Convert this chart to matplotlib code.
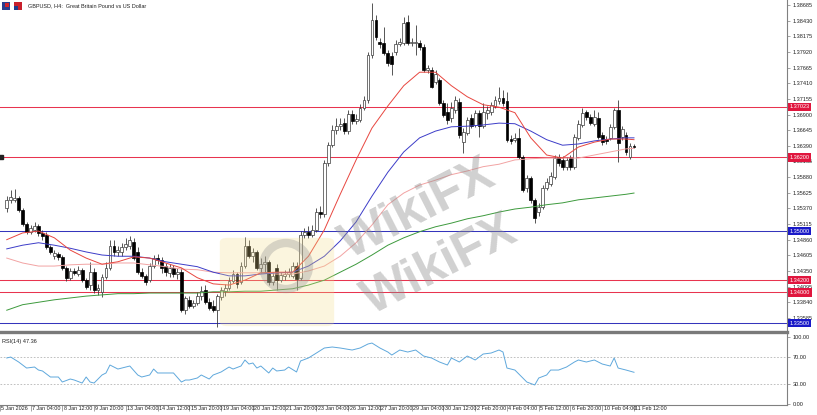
import numpy as np
import matplotlib
matplotlib.use("Agg")
import matplotlib.pyplot as plt
import matplotlib.transforms as mtrans
from matplotlib.patches import FancyBboxPatch, Ellipse, Rectangle

plt.rcParams['font.family'] = ['Liberation Sans', 'DejaVu Sans']

# ---------------- data (GBPUSD H4) ----------------
opens = [1.3538, 1.3551, 1.3551, 1.3554, 1.3534, 1.3512, 1.3499, 1.3502, 1.3508, 1.3497,
         1.3494, 1.3474, 1.3459, 1.3463, 1.3458, 1.3440, 1.3424, 1.3435, 1.3430, 1.3437,
         1.3420, 1.3412, 1.3433, 1.3404, 1.3401, 1.3425, 1.3440, 1.3476, 1.3466, 1.3466,
         1.3474, 1.3476, 1.3482, 1.3466, 1.3433, 1.3427, 1.3420, 1.3443, 1.3456, 1.3453,
         1.3443, 1.3432, 1.3440, 1.3430, 1.3433, 1.3371, 1.3388, 1.3378, 1.3383, 1.3394,
         1.3404, 1.3384, 1.3378, 1.3371, 1.3393, 1.3402, 1.3407, 1.3419, 1.3430, 1.3417,
         1.3443, 1.3476, 1.3459, 1.3466, 1.3440, 1.3446, 1.3450, 1.3417, 1.3440, 1.3420,
         1.3427, 1.3430, 1.3427, 1.3443, 1.3424, 1.3494, 1.3499, 1.3494, 1.3502, 1.3531,
         1.3528, 1.3611, 1.3640, 1.3665, 1.3671, 1.3676, 1.3663, 1.3691, 1.3679, 1.3681,
         1.3701, 1.3714, 1.3787, 1.3844, 1.3808, 1.3807, 1.3790, 1.3785, 1.3792, 1.3805,
         1.3807, 1.3841, 1.3807, 1.3806, 1.3807, 1.3800, 1.3763, 1.3763, 1.3743, 1.3746,
         1.3709, 1.3694, 1.3684, 1.3697, 1.3710, 1.3645, 1.3660, 1.3684, 1.3673, 1.3693,
         1.3671, 1.3693, 1.3694, 1.3704, 1.3712, 1.3717, 1.3712, 1.3650, 1.3649, 1.3652,
         1.3621, 1.3570, 1.3587, 1.3551, 1.3531, 1.3539, 1.3570, 1.3577, 1.3588, 1.3621,
         1.3616, 1.3605, 1.3619, 1.3605, 1.3652, 1.3673, 1.3694, 1.3686, 1.3675, 1.3684,
         1.3657, 1.3650, 1.3652, 1.3670, 1.3697, 1.3653, 1.3657, 1.3621, 1.3639]
highs = [1.3557, 1.3567, 1.3569, 1.3557, 1.3538, 1.3515, 1.3510, 1.3515, 1.3512, 1.3502,
         1.3499, 1.3477, 1.3469, 1.3466, 1.3461, 1.3443, 1.3440, 1.3440, 1.3443, 1.3440,
         1.3424, 1.3450, 1.3440, 1.3414, 1.3430, 1.3450, 1.3486, 1.3486, 1.3476, 1.3481,
         1.3489, 1.3492, 1.3489, 1.3474, 1.3440, 1.3430, 1.3448, 1.3461, 1.3463, 1.3458,
         1.3448, 1.3446, 1.3445, 1.3440, 1.3440, 1.3394, 1.3394, 1.3388, 1.3401, 1.3411,
         1.3412, 1.3391, 1.3388, 1.3398, 1.3409, 1.3414, 1.3425, 1.3437, 1.3433, 1.3450,
         1.3490, 1.3486, 1.3472, 1.3469, 1.3456, 1.3459, 1.3453, 1.3433, 1.3446, 1.3433,
         1.3437, 1.3440, 1.3450, 1.3450, 1.3500, 1.3505, 1.3508, 1.3510, 1.3538, 1.3541,
         1.3616, 1.3645, 1.3673, 1.3684, 1.3684, 1.3684, 1.3697, 1.3697, 1.3691, 1.3707,
         1.3720, 1.3792, 1.3872, 1.3852, 1.3815, 1.3833, 1.3795, 1.3792, 1.3811, 1.3815,
         1.3849, 1.3852, 1.3815, 1.3836, 1.3811, 1.3805, 1.3771, 1.3767, 1.3763, 1.3750,
         1.3714, 1.3709, 1.3710, 1.3720, 1.3717, 1.3668, 1.3686, 1.3691, 1.3697, 1.3697,
         1.3709, 1.3704, 1.3710, 1.3720, 1.3735, 1.3730, 1.3727, 1.3657, 1.3660, 1.3668,
         1.3624, 1.3592, 1.3590, 1.3554, 1.3546, 1.3575, 1.3587, 1.3596, 1.3624, 1.3626,
         1.3622, 1.3621, 1.3624, 1.3658, 1.3681, 1.3701, 1.3697, 1.3691, 1.3697, 1.3694,
         1.3662, 1.3655, 1.3675, 1.3701, 1.3714, 1.3671, 1.3662, 1.3644, 1.3642]
lows = [1.3531, 1.3546, 1.3547, 1.3531, 1.3508, 1.3495, 1.3495, 1.3499, 1.3492, 1.3486,
        1.3471, 1.3463, 1.3455, 1.3453, 1.3437, 1.3419, 1.3420, 1.3429, 1.3427, 1.3417,
        1.3406, 1.3404, 1.3399, 1.3396, 1.3393, 1.3422, 1.3437, 1.3459, 1.3459, 1.3459,
        1.3469, 1.3471, 1.3453, 1.3430, 1.3424, 1.3412, 1.3417, 1.3440, 1.3446, 1.3432,
        1.3427, 1.3425, 1.3425, 1.3422, 1.3368, 1.3365, 1.3375, 1.3375, 1.3380, 1.3388,
        1.3381, 1.3371, 1.3368, 1.3344, 1.3388, 1.3394, 1.3404, 1.3415, 1.3407, 1.3414,
        1.3440, 1.3456, 1.3450, 1.3437, 1.3432, 1.3433, 1.3412, 1.3412, 1.3404, 1.3417,
        1.3420, 1.3425, 1.3424, 1.3404, 1.3420, 1.3489, 1.3489, 1.3490, 1.3499, 1.3521,
        1.3523, 1.3606, 1.3637, 1.3658, 1.3665, 1.3658, 1.3658, 1.3675, 1.3675, 1.3678,
        1.3697, 1.3709, 1.3782, 1.3811, 1.3798, 1.3787, 1.3769, 1.3754, 1.3787, 1.3802,
        1.3803, 1.3803, 1.3802, 1.3787, 1.3795, 1.3759, 1.3758, 1.3733, 1.3740, 1.3706,
        1.3686, 1.3675, 1.3678, 1.3693, 1.3652, 1.3627, 1.3657, 1.3668, 1.3670, 1.3653,
        1.3668, 1.3683, 1.3689, 1.3701, 1.3707, 1.3704, 1.3645, 1.3642, 1.3645, 1.3618,
        1.3564, 1.3564, 1.3546, 1.3513, 1.3524, 1.3536, 1.3567, 1.3574, 1.3585, 1.3606,
        1.3600, 1.3600, 1.3600, 1.3601, 1.3649, 1.3670, 1.3681, 1.3673, 1.3671, 1.3650,
        1.3640, 1.3642, 1.3649, 1.3667, 1.3613, 1.3649, 1.3624, 1.3618, 1.3635]
closes = [1.3551, 1.3556, 1.3554, 1.3534, 1.3512, 1.3499, 1.3505, 1.3508, 1.3497, 1.3492,
          1.3474, 1.3466, 1.3464, 1.3458, 1.3440, 1.3424, 1.3435, 1.3432, 1.3437, 1.3420,
          1.3409, 1.3433, 1.3404, 1.3407, 1.3425, 1.3440, 1.3476, 1.3466, 1.3469, 1.3474,
          1.3479, 1.3486, 1.3456, 1.3433, 1.3427, 1.3417, 1.3443, 1.3456, 1.3453, 1.3440,
          1.3433, 1.3440, 1.3430, 1.3433, 1.3371, 1.3391, 1.3378, 1.3383, 1.3394, 1.3402,
          1.3384, 1.3375, 1.3371, 1.3394, 1.3404, 1.3407, 1.3419, 1.3430, 1.3414, 1.3443,
          1.3476, 1.3459, 1.3466, 1.3440, 1.3446, 1.3450, 1.3417, 1.3427, 1.3420, 1.3429,
          1.3430, 1.3433, 1.3443, 1.3422, 1.3494, 1.3499, 1.3494, 1.3502, 1.3531, 1.3528,
          1.3611, 1.3640, 1.3665, 1.3671, 1.3675, 1.3663, 1.3691, 1.3679, 1.3683, 1.3701,
          1.3714, 1.3787, 1.3844, 1.3816, 1.3805, 1.3790, 1.3774, 1.3772, 1.3805, 1.3808,
          1.3839, 1.3807, 1.3808, 1.3808, 1.3800, 1.3763, 1.3766, 1.3735, 1.3756, 1.3709,
          1.3689, 1.3681, 1.3701, 1.3714, 1.3657, 1.3662, 1.3681, 1.3671, 1.3693, 1.3671,
          1.3694, 1.3697, 1.3706, 1.3714, 1.3717, 1.3709, 1.3649, 1.3647, 1.3652, 1.3621,
          1.3567, 1.3587, 1.3551, 1.3521, 1.3539, 1.3570, 1.3580, 1.3590, 1.3619, 1.3611,
          1.3605, 1.3616, 1.3605, 1.3653, 1.3675, 1.3693, 1.3686, 1.3676, 1.3686, 1.3653,
          1.3645, 1.3647, 1.3670, 1.3697, 1.3644, 1.3667, 1.3629, 1.3639, 1.3637]

# moving averages at these bars
ma_bars = [0, 4, 8, 12, 16, 20, 24, 28, 32, 36, 40, 44, 48, 52, 56, 60, 64, 68, 72, 76,
           80, 84, 88, 92, 96, 100, 104, 108, 112, 116, 120, 124, 128, 132, 136, 140, 144,
           148, 152, 156, 158]
ma_red = [1.3486, 1.3497, 1.3500, 1.3489, 1.3469, 1.3456, 1.3446, 1.3450, 1.3458, 1.3456,
          1.3448, 1.3440, 1.3424, 1.3414, 1.3412, 1.3420, 1.3432, 1.3433, 1.3433, 1.3459,
          1.3502, 1.3560, 1.3616, 1.3668, 1.3704, 1.3737, 1.3759, 1.3759, 1.3737, 1.3719,
          1.3706, 1.3702, 1.3693, 1.3652, 1.3624, 1.3619, 1.3637, 1.3645, 1.3650, 1.3650, 1.3649]
ma_blue = [1.3471, 1.3477, 1.3481, 1.3477, 1.3472, 1.3466, 1.3461, 1.3459, 1.3459, 1.3456,
           1.3450, 1.3446, 1.3442, 1.3433, 1.3427, 1.3427, 1.3430, 1.3432, 1.3433, 1.3443,
           1.3459, 1.3484, 1.3515, 1.3557, 1.3596, 1.3629, 1.3652, 1.3663, 1.3670, 1.3671,
           1.3673, 1.3676, 1.3675, 1.3663, 1.3649, 1.3640, 1.3642, 1.3647, 1.3650, 1.3652, 1.3652]
ma_pink = [1.3456, 1.3448, 1.3443, 1.3443, 1.3445, 1.3446, 1.3446, 1.3448, 1.3448, 1.3445,
           1.3442, 1.3438, 1.3437, 1.3433, 1.3432, 1.3432, 1.3432, 1.3430, 1.3430, 1.3435,
           1.3443, 1.3459, 1.3481, 1.3510, 1.3543, 1.3562, 1.3575, 1.3583, 1.3592, 1.3598,
           1.3605, 1.3609, 1.3616, 1.3618, 1.3619, 1.3619, 1.3619, 1.3624, 1.3629, 1.3634, 1.3635]
ma_green = [1.3371, 1.3380, 1.3384, 1.3388, 1.3391, 1.3394, 1.3396, 1.3398, 1.3398, 1.3399,
            1.3399, 1.3399, 1.3399, 1.3401, 1.3401, 1.3402, 1.3402, 1.3404, 1.3406, 1.3412,
            1.3420, 1.3433, 1.3446, 1.3461, 1.3477, 1.3489, 1.3499, 1.3507, 1.3513, 1.3520,
            1.3525, 1.3531, 1.3536, 1.3539, 1.3543, 1.3546, 1.3551, 1.3554, 1.3557, 1.3560, 1.3562]

rsi_bars = [0, 1, 3, 5, 7, 8, 9, 11, 13, 14, 16, 17, 19, 20, 21, 22, 24, 25, 26, 28,
            29, 31, 33, 34, 36, 37, 38, 39, 41, 42, 44, 45, 46, 48, 49, 51, 52, 54, 56, 57,
            59, 60, 61, 62, 63, 64, 66, 67, 68, 70, 71, 73, 74, 76, 78, 80, 82, 84, 87, 89,
            91, 92, 94, 96, 97, 99, 101, 103, 105, 107, 109, 111, 112, 114, 116, 118, 120, 122, 124, 125,
            126, 128, 130, 131, 133, 134, 136, 137, 139, 141, 143, 144, 146, 148, 150, 152, 153, 154, 156, 158]
rsi_vals = [68.7, 70.1, 62.7, 53.7, 55.2, 50.7, 49.3, 40.3, 40.3, 32.8, 37.3, 35.8, 31.3, 40.3, 32.8, 31.3, 43.3, 46.3, 58.2, 52.2,
            53.7, 56.7, 43.3, 40.3, 43.3, 52.2, 46.3, 46.3, 46.3, 46.3, 32.8, 35.8, 35.8, 38.8, 43.3, 37.3, 43.3, 47.8, 55.2, 52.2,
            56.7, 65.7, 59.7, 61.2, 53.7, 56.7, 46.3, 53.7, 49.3, 50.7, 55.2, 47.8, 64.2, 68.7, 76.1, 83.6, 85.1, 83.6, 80.6, 83.6,
            89.6, 91.0, 83.6, 77.6, 73.1, 80.6, 77.6, 80.6, 71.6, 68.7, 62.7, 58.2, 68.7, 62.7, 71.6, 65.7, 74.6, 76.1, 80.6, 77.6,
            53.7, 50.7, 38.8, 32.8, 28.4, 38.8, 43.3, 50.7, 50.7, 55.2, 62.7, 65.7, 62.7, 65.7, 59.7, 56.7, 68.7, 53.7, 50.7, 47.36]

price_ticks = [1.38685, 1.38430, 1.38175, 1.37920, 1.37665, 1.37410, 1.37155, 1.36900, 1.36645,
               1.36390, 1.36135, 1.35880, 1.35625, 1.35370, 1.35115, 1.34860, 1.34605, 1.34350,
               1.34095, 1.33840, 1.33585]
red_levels = [1.37023, 1.36200, 1.34200, 1.34000]
blue_levels = [1.35000, 1.33500]
rsi_ticks = [100, 70, 30, 0]
first_label = "5 Jan 2026"
time_labels = ["7 Jan 04:00", "8 Jan 12:00", "9 Jan 20:00", "13 Jan 04:00", "14 Jan 12:00",
               "15 Jan 20:00", "19 Jan 04:00", "20 Jan 12:00", "21 Jan 20:00", "23 Jan 04:00",
               "26 Jan 12:00", "27 Jan 20:00", "29 Jan 04:00", "30 Jan 12:00", "2 Feb 20:00",
               "4 Feb 04:00", "5 Feb 12:00", "6 Feb 20:00", "10 Feb 04:00", "11 Feb 12:00"]
label_bars = [6, 14, 22, 30, 38, 46, 54, 62, 70, 78, 86, 94, 102, 110, 118, 126, 134, 142, 150, 158]
title = "GBPUSD, H4:  Great Britain Pound vs US Dollar"
rsi_title = "RSI(14) 47.36"

# ---------------- layout ----------------
W, H = 817, 415
fig = plt.figure(figsize=(W / 100, H / 100), dpi=100)
fig.patch.set_facecolor('white')

n = len(closes)
bar_px = 3.97
last_px = 634.0
axis_px = 787.0
xl = (n - 1) - last_px / bar_px
xr = (n - 1) + (axis_px - last_px) / bar_px

ax = fig.add_axes([0, (H - 332) / H, axis_px / W, 332 / H])
axr = fig.add_axes([0, (H - 405) / H, axis_px / W, 73 / H])

for a in (ax, axr):
    a.set_xlim(xl, xr)
    a.set_facecolor('white')
    a.spines['left'].set_visible(False)
    a.spines['right'].set_color('#808080')
    a.spines['right'].set_linewidth(0.8)
ax.spines['top'].set_visible(False)
ax.spines['bottom'].set_visible(False)
axr.spines['top'].set_color('#7a7a7a')
axr.spines['top'].set_linewidth(2.4)
axr.spines['bottom'].set_color('#808080')
axr.spines['bottom'].set_linewidth(0.8)

# ---------------- main price panel ----------------
ax.set_ylim(1.33355, 1.38767)
ax.yaxis.tick_right()
ax.set_yticks(price_ticks)
ax.set_yticklabels([f"{v:.5f}" for v in price_ticks])
ax.tick_params(axis='y', direction='out', length=2.5, width=0.5, pad=1.5,
               labelsize=4.0, colors='#808080', labelcolor='#222222')
ax.set_xticks([])

ytrans = mtrans.blended_transform_factory(ax.transAxes, ax.transData)
for v in red_levels:
    ax.axhline(v, color='#e8344f', lw=0.75, zorder=1)
    ax.text(1.0 + 2.5 / axis_px, v, f"{v:.5f}", transform=ytrans, fontsize=4.0, color='white',
            va='center', ha='left', zorder=10, clip_on=False,
            bbox=dict(boxstyle='square,pad=0.3', fc='#e0163e', ec='none'))
for v in blue_levels:
    ax.axhline(v, color='#3535bc', lw=0.75, zorder=1)
    ax.text(1.0 + 2.5 / axis_px, v, f"{v:.5f}", transform=ytrans, fontsize=4.0, color='white',
            va='center', ha='left', zorder=10, clip_on=False,
            bbox=dict(boxstyle='square,pad=0.3', fc='#1a1ac8', ec='none'))
ax.plot([xl + 0.3], [red_levels[1]], marker='s', ms=2.2, color='#222222', zorder=11, clip_on=False)

x = np.arange(n)
o = np.array(opens); c = np.array(closes); h = np.array(highs); l = np.array(lows)
up = c >= o
ax.vlines(x, l, h, color='#3a3a3a', lw=0.6, zorder=3)
bb = np.minimum(o, c)
bh = np.maximum(np.abs(c - o), 0.00005)
ax.bar(x[up], bh[up], bottom=bb[up], width=0.72, facecolor='white', edgecolor='#3a3a3a',
       linewidth=0.5, zorder=4)
ax.bar(x[~up], bh[~up], bottom=bb[~up], width=0.72, facecolor='black', edgecolor='black',
       linewidth=0.5, zorder=4)

ax.plot(ma_bars, ma_green, color='#3d9a3d', lw=0.7, zorder=5, solid_joinstyle='round')
ax.plot(ma_bars, ma_pink, color='#f2a3a3', lw=0.7, zorder=5, solid_joinstyle='round')
ax.plot(ma_bars, ma_blue, color='#3c3cc8', lw=0.7, zorder=5, solid_joinstyle='round')
ax.plot(ma_bars, ma_red, color='#e8463f', lw=0.7, zorder=5, solid_joinstyle='round')

# ---------------- RSI panel ----------------
axr.set_ylim(-1.5, 107.5)
axr.plot(rsi_bars, rsi_vals, color='#5fa8dc', lw=0.7, zorder=3)
for lv in (70, 30):
    axr.axhline(lv, color='#b5b5b5', lw=0.6, ls=(0, (2, 2)), zorder=1)
axr.yaxis.tick_right()
axr.set_yticks(rsi_ticks)
axr.set_yticklabels([f"{v:.2f}" for v in rsi_ticks])
axr.tick_params(axis='y', direction='out', length=2.5, width=0.5, pad=1.5,
                labelsize=4.0, colors='#808080', labelcolor='#222222')
axr.set_xticks([xl] + label_bars)
axr.tick_params(axis='x', direction='out', length=4.5, width=0.5, colors='#808080',
                labelbottom=False)
for pos, lab in zip([xl] + label_bars, [first_label] + time_labels):
    axr.annotate(lab, xy=(pos, 0), xycoords=('data', 'axes fraction'), xytext=(1.0, -0.6),
                 textcoords='offset points', ha='left', va='top', fontsize=3.9,
                 color='#222222', annotation_clip=False)
axr.text(0.003, 0.87, rsi_title, transform=axr.transAxes, fontsize=4.0, color='#222222',
         va='center', ha='left')

# ---------------- header ----------------
fig.text(28 / W, 1 - 5.5 / H, title, fontsize=4.0, color='#222222', va='center', ha='left')
fig.add_artist(Rectangle((2 / W, 1 - 10 / H), 8 / W, 8 / H, transform=fig.transFigure,
                         fc='#2b3f8f', ec='none'))
fig.add_artist(Rectangle((5 / W, 1 - 7 / H), 4 / W, 4 / H, transform=fig.transFigure,
                         fc='#d2232a', ec='none'))
fig.add_artist(Rectangle((14 / W, 1 - 10 / H), 8 / W, 8 / H, transform=fig.transFigure,
                         fc='#c8202c', ec='none'))
fig.add_artist(Rectangle((14 / W, 1 - 10 / H), 4 / W, 4 / H, transform=fig.transFigure,
                         fc='#1f3c8c', ec='none'))

# ---------------- watermark ----------------
fig.add_artist(FancyBboxPatch((228 / W, 1 - 322 / H), 98 / W, 80 / H,
                              boxstyle='round,pad=0.01', transform=fig.transFigure,
                              fc='#f3dc8a', ec='none', alpha=0.28, zorder=6))
fig.add_artist(Ellipse((286 / W, 1 - 266 / H), 46 / W, 46 / H, transform=fig.transFigure,
                       fill=False, ec='#8f8f8f', lw=6, alpha=0.33, zorder=7))
fig.text(418 / W, 1 - 210 / H, "WikiFX", fontsize=36, fontweight='bold', color='#8c8c8c',
         alpha=0.40, rotation=27, ha='center', va='center', zorder=7)
fig.text(440 / W, 1 - 266 / H, "WikiFX", fontsize=36, fontweight='bold', color='#8c8c8c',
         alpha=0.40, rotation=27, ha='center', va='center', zorder=7)

fig.savefig("out.png", dpi=100, facecolor='white')
